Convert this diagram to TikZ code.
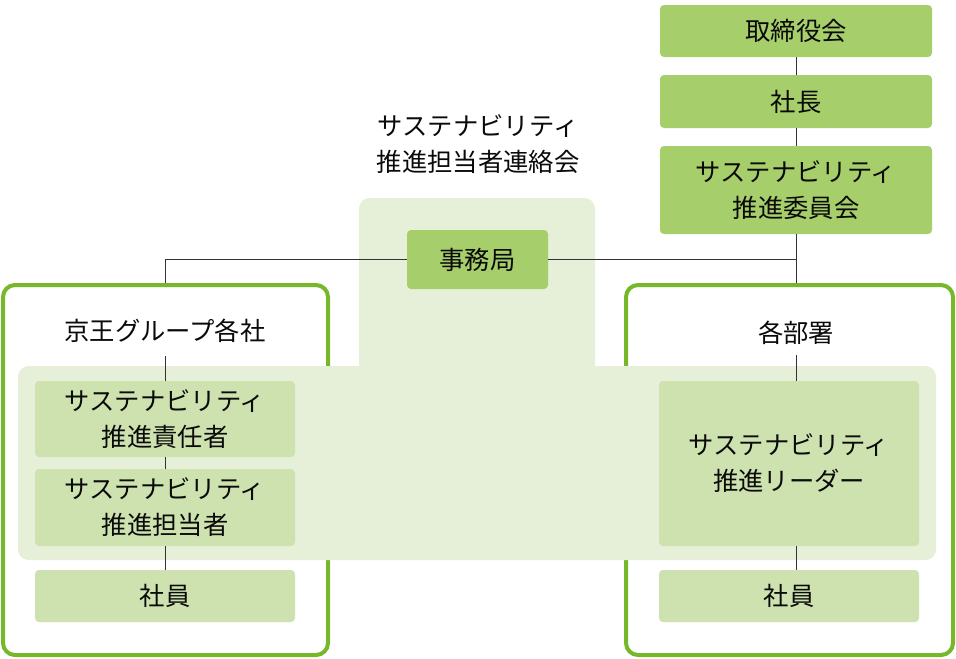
\documentclass[tikz,border=0pt]{standalone}
\usepackage{fontspec}
\setmainfont{Noto Sans CJK JP}
\definecolor{dgreen}{RGB}{166,206,106}
\definecolor{lgreen}{RGB}{206,226,175}
\definecolor{bandc}{RGB}{230,240,216}
\definecolor{bordc}{RGB}{118,184,42}
\definecolor{linec}{RGB}{51,51,51}
\definecolor{txtc}{RGB}{10,10,10}
\tikzset{
  dbox/.style={fill=dgreen, rounded corners=3pt, inner sep=0pt, align=center, text=txtc, font=\fontsize{19}{27}\selectfont},
  lbox/.style={fill=lgreen, rounded corners=3pt, inner sep=0pt, align=center, text=txtc, font=\fontsize{19}{27}\selectfont},
  label/.style={inner sep=0pt, align=center, text=txtc, font=\fontsize{19}{27}\selectfont},
  outerbox/.style={draw=bordc, line width=3pt, rounded corners=9pt, fill=white, inner sep=0pt},
  conn/.style={draw=linec, line width=0.75pt},
}
\begin{document}
\begin{tikzpicture}[x=0.75pt,y=-0.75pt]
\useasboundingbox (0,0) rectangle (956,658);
% outer boxes
\node[outerbox, minimum width=243.75pt, minimum height=277.5pt] (lbx) at (165.5,470) {};
\node[outerbox, minimum width=245.25pt, minimum height=277.5pt] (rbx) at (789.5,470) {};
% band
\fill[bandc, rounded corners=8pt] (359,380) rectangle (595,198);
\fill[bandc, rounded corners=8pt] (18,366) rectangle (936,560);
% top chain
\node[dbox, minimum width=204pt, minimum height=39pt] (tori) at (796,31) {取締役会};
\node[dbox, minimum width=204pt, minimum height=39.75pt] (shacho) at (796,101.5) {社長};
\node[dbox, minimum width=204pt, minimum height=66pt] (iinkai) at (796,190) {サステナビリティ\\推進委員会};
% title and secretariat
\node[label] (renraku) at (478,144) {サステナビリティ\\推進担当者連絡会};
\node[dbox, minimum width=105.75pt, minimum height=44.25pt] (jimu) at (477.5,259.5) {事務局};
% left side
\node[label, minimum height=37.5pt] (keio) at (165,331) {京王グループ各社};
\node[lbox, minimum width=195pt, minimum height=57pt] (sekinin) at (165,419) {サステナビリティ\\推進責任者};
\node[lbox, minimum width=195pt, minimum height=57.75pt] (tanto) at (165,507.5) {サステナビリティ\\推進担当者};
\node[lbox, minimum width=195pt, minimum height=39pt] (shainL) at (165,596) {社員};
% right side
\node[label, minimum height=33pt] (bumon) at (796,333) {各部署};
\node[lbox, minimum width=195pt, minimum height=123.75pt] (leader) at (789,463.5) {サステナビリティ\\推進リーダー};
\node[lbox, minimum width=195pt, minimum height=39pt] (shainR) at (789,596) {社員};
% connectors
\coordinate (jR) at (iinkai.south |- jimu.east);
\coordinate (jL) at (lbx.north |- jimu.west);
\draw[conn] (tori) -- (shacho);
\draw[conn] (shacho) -- (iinkai);
\draw[conn] (iinkai.south) -- (rbx.north -| iinkai.south);
\draw[conn] (jimu.east) -- (jR);
\draw[conn] (jimu.west) -- (jL) -- (lbx.north);
\draw[conn] (keio.south) -- (sekinin.north);
\draw[conn] (sekinin.south) -- (tanto.north);
\draw[conn] (tanto.south) -- (shainL.north);
\draw[conn] (bumon.south) -- (bumon.south |- leader.north);
\draw[conn] (leader.south -| bumon.south) -- (shainR.north -| bumon.south);
\end{tikzpicture}
\end{document}
